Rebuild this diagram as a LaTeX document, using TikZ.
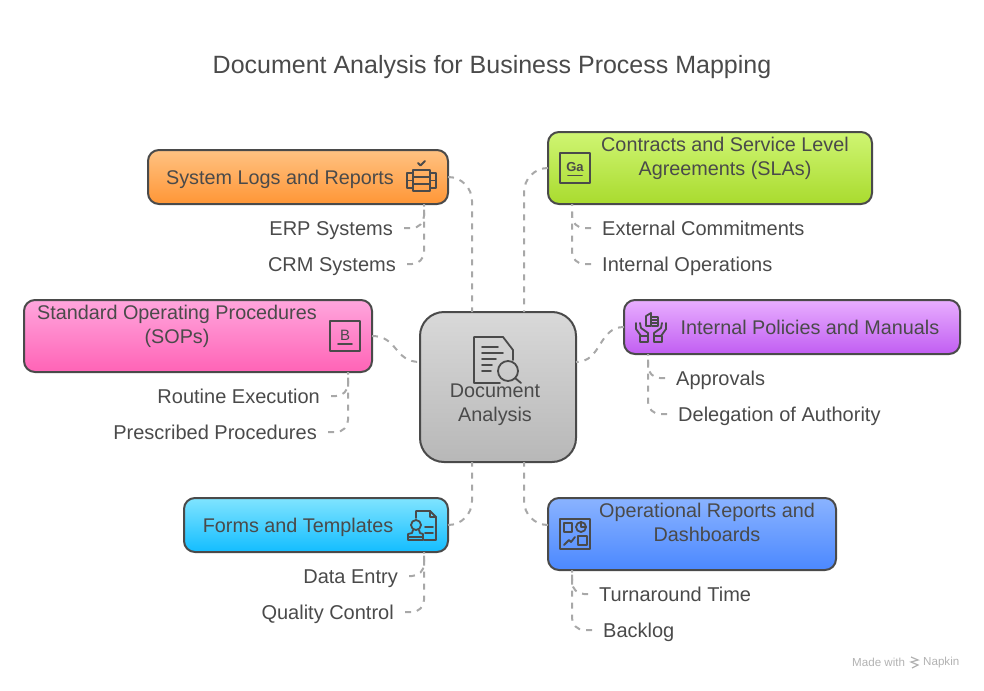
\documentclass[tikz,border=0pt]{standalone}
\usepackage{fontspec}
\setmainfont{Liberation Sans}
\usetikzlibrary{positioning}
\definecolor{inkc}{HTML}{4A4A4A}
\definecolor{dashc}{HTML}{A8A8A8}
\tikzset{
  box/.style={draw=inkc,line width=2pt,rounded corners=11pt,outer sep=0pt,inner sep=0pt},
  boxtext/.style={text=inkc,font=\fontsize{19.8}{24}\selectfont,align=center,inner sep=0pt,text height=17pt,text depth=3pt},
  leaf/.style={text=inkc,font=\fontsize{20}{24}\selectfont,inner sep=0pt,text height=17pt,text depth=3pt},
  link/.style={draw=dashc,line width=2pt,dash pattern=on 6pt off 6pt},
  sublink/.style={link,rounded corners=12pt,shorten <=11pt},
  icon/.style={draw=inkc,line width=1.8pt,line join=round,line cap=round},
}
\begin{document}
\begin{tikzpicture}[x=1pt,y=-1pt]
  \useasboundingbox (0,0) rectangle (984,690);

  \node (title)[text=inkc,font=\fontsize{25}{30}\selectfont,inner sep=0pt] at (492,67) {Document Analysis for Business Process Mapping};

  % boxes
  \node (logs)[box,minimum width=300pt,minimum height=54pt,top color={rgb,255:red,255;green,194;blue,130},bottom color={rgb,255:red,255;green,150;blue,54}] at (298,177) {};
  \node (contracts)[box,minimum width=324pt,minimum height=72pt,top color={rgb,255:red,207;green,245;blue,115},bottom color={rgb,255:red,169;green,219;blue,46}] at (710,168) {};
  \node (sop)[box,minimum width=348pt,minimum height=72pt,top color={rgb,255:red,255;green,166;blue,221},bottom color={rgb,255:red,255;green,99;blue,182}] at (198,336) {};
  \node (policies)[box,minimum width=336pt,minimum height=54pt,top color={rgb,255:red,232;green,174;blue,255},bottom color={rgb,255:red,193;green,94;blue,242}] at (792,327) {};
  \node (forms)[box,minimum width=264pt,minimum height=54pt,top color={rgb,255:red,128;green,228;blue,255},bottom color={rgb,255:red,19;green,189;blue,255}] at (316,525) {};
  \node (reports)[box,minimum width=288pt,minimum height=72pt,top color={rgb,255:red,138;green,179;blue,255},bottom color={rgb,255:red,75;green,136;blue,255}] at (692,534) {};
  \node (center)[box,rounded corners=24pt,minimum width=156pt,minimum height=150pt,top color=black!15,bottom color=black!28] at (498,387) {};

  % box texts
  \node (logstext)[boxtext] at (280,177) {System Logs and Reports};
  \node (contractstext)[boxtext] at (725,168) {Contracts and Service Level\\Agreements (SLAs)};
  \node (soptext)[boxtext] at (177,336) {Standard Operating Procedures\\(SOPs)};
  \node (policiestext)[boxtext] at (810,327) {Internal Policies and Manuals};
  \node (formstext)[boxtext] at (298,525) {Forms and Templates};
  \node (reportstext)[boxtext] at (707,534) {Operational Reports and\\Dashboards};
  \node (centertext)[boxtext] at (495,414) {Document\\Analysis};

  % leaves
  \node (erp)[leaf,anchor=east] at (393,228) {ERP Systems};
  \node (crm)[leaf,anchor=east] at (396,264) {CRM Systems};
  \node (routine)[leaf,anchor=east] at (320,396) {Routine Execution};
  \node (prescribed)[leaf,anchor=east] at (317,432) {Prescribed Procedures};
  \node (entry)[leaf,anchor=east] at (398,576) {Data Entry};
  \node (quality)[leaf,anchor=east] at (394,612) {Quality Control};
  \node (external)[leaf,anchor=west] at (602,228) {External Commitments};
  \node (internal)[leaf,anchor=west] at (602,264) {Internal Operations};
  \node (approvals)[leaf,anchor=west] at (676,378) {Approvals};
  \node (delegation)[leaf,anchor=west] at (678,414) {Delegation of Authority};
  \node (turnaround)[leaf,anchor=west] at (599,594) {Turnaround Time};
  \node (backlog)[leaf,anchor=west] at (603,630) {Backlog};

  % fixed ends on the boxes
  \coordinate (logsdrop) at (424,204);
  \coordinate (contractsdrop) at (572,204);
  \coordinate (sopdrop) at (348,372);
  \coordinate (policiesdrop) at (648,354);
  \coordinate (formsdrop) at (424,552);
  \coordinate (reportsdrop) at (572,570);
  \coordinate (centerleft) at (420,362);
  \coordinate (centerright) at (576,362);
  \coordinate (centertopa) at (472,312);
  \coordinate (centertopb) at (524,312);
  \coordinate (centerbota) at (472,462);
  \coordinate (centerbotb) at (524,462);

  % links to the center
  \draw[link,rounded corners=24pt] (logs.east) -| (centertopa);
  \draw[link,rounded corners=24pt] (contracts.west) -| (centertopb);
  \draw[link,rounded corners=24pt] (forms.east) -| (centerbota);
  \draw[link,rounded corners=24pt] (reports.west |- forms.east) -| (centerbotb);
  \draw[link] (sop.east) .. controls (398,336) and (394,362) .. (centerleft);
  \draw[link] (policies.west) .. controls (598,327) and (602,362) .. (centerright);

  % links to the leaves
  \draw[sublink] (erp.east) -| (logsdrop);
  \draw[sublink] (crm.east) -| (logsdrop);
  \draw[sublink] (routine.east) -| (sopdrop);
  \draw[sublink] (prescribed.east) -| (sopdrop);
  \draw[sublink] (entry.east) -| (formsdrop);
  \draw[sublink] (quality.east) -| (formsdrop);
  \draw[sublink] (external.west) -| (contractsdrop);
  \draw[sublink] (internal.west) -| (contractsdrop);
  \draw[sublink] (approvals.west) -| (policiesdrop);
  \draw[sublink] (delegation.west) -| (policiesdrop);
  \draw[sublink] (turnaround.west) -| (reportsdrop);
  \draw[sublink] (backlog.west) -| (reportsdrop);

  % icon of the center
  \draw[icon] (513,360) -- (513,350) -- (503,337) -- (474,337) -- (474,383) -- (500,383);
  \draw[icon] (482,347) -- (498,347) (482,353) -- (503,353) (482,359) -- (496,359) (482,365) -- (492,365) (482,371) -- (491,371);
  \draw[icon] (508,371) circle (10pt);
  \draw[icon] (515,378) -- (521,383);

  % icon of the logs
  \draw[icon] (413,170) rectangle (430,191);
  \draw[icon] (413,177) -- (430,177) (413,184) -- (430,184);
  \draw[icon] (413,173) -- (407,173) -- (407,188) -- (413,188) (407,180.5) -- (413,180.5);
  \draw[icon] (430,173) -- (436,173) -- (436,188) -- (430,188) (430,180.5) -- (436,180.5);
  \draw[icon] (418,163) -- (420.5,165.5) -- (425,161);

  % icon of the contracts
  \draw[icon] (560,153) rectangle (590,183);
  \node (contractsglyph)[text=inkc,font=\fontsize{13}{13}\selectfont\bfseries,inner sep=0pt] at (575,167) {Ga};
  \draw[icon] (568,175.5) -- (582,175.5);

  % icon of the procedures
  \draw[icon] (330,321) rectangle (360,351);
  \node (sopglyph)[text=inkc,font=\fontsize{15}{15}\selectfont,inner sep=0pt] at (345,335) {B};
  \draw[icon] (338,344) -- (352,344);

  % icon of the policies
  \draw[icon] (636,323) -- (636,329) -- (641,336) (640,323) -- (641,328) -- (648,333) -- (648,336);
  \draw[icon] (666,323) -- (666,329) -- (661,336) (662,323) -- (661,328) -- (654,333) -- (654,336);
  \draw[icon] (640,336) rectangle (648,342) (654,336) rectangle (662,342);
  \draw[icon] (646,316) -- (651,313) -- (651,326) -- (646,326) -- cycle;
  \draw[icon] (652,317) -- (658,317) -- (658,326) -- (652,326) (652,320) -- (658,320) (652,323) -- (658,323);

  % icon of the forms
  \draw[icon] (416,518) -- (416,511) -- (430,511) -- (436,517) -- (436,540) -- (424,540);
  \draw[icon] (430,511) -- (430,517) -- (436,517);
  \draw[icon] (425,527) -- (433,527) (425,533) -- (433,533);
  \draw[icon] (416,525) circle (5pt);
  \draw[icon] (413,530) -- (412,533) -- (408,534) -- (408,540) -- (423,540) -- (423,534) -- (420,533) -- (419,530);
  \draw[icon] (408,537) -- (423,537);

  % icon of the reports
  \draw[icon] (560,519) rectangle (590,549);
  \draw[icon] (564,523) rectangle (572,532);
  \draw[icon] (581,527) circle (5pt);
  \draw[icon] (581,522) -- (581,527) -- (586,527);
  \draw[icon] (564,545) -- (569,540) -- (571,542) -- (575,537);
  \draw[icon] (578,536) rectangle (587,545);

  % watermark
  \node (made)[text=black!30,font=\fontsize{11.6}{13}\selectfont,inner sep=0pt,anchor=west] at (852,662) {Made with};
  \node (napkin)[text=black!30,font=\fontsize{11.6}{13}\selectfont,inner sep=0pt,anchor=west] at (923,662) {Napkin};
  \draw[black!30,line width=1.2pt] (911,657) -- (918,660) -- (911,662) -- (918,665) -- (912,668);
\end{tikzpicture}
\end{document}
